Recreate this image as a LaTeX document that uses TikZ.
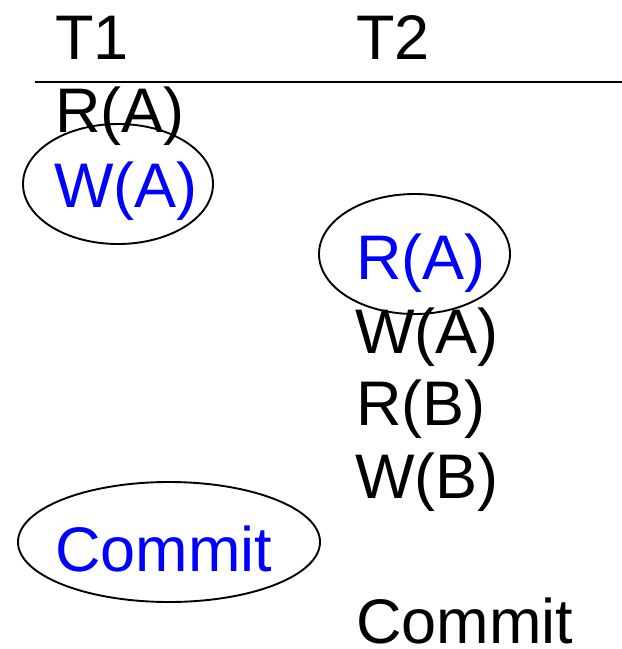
\documentclass[tikz,border=0pt]{standalone}
\usepackage{fontspec}
\setmainfont{Liberation Sans}
\usepackage{tikz}
\usetikzlibrary{shapes.geometric}
\definecolor{opblue}{RGB}{0,0,255}
\tikzstyle{op} = [anchor=base west, inner sep=0pt, font=\fontsize{63}{75}\selectfont]
\tikzstyle{hilite} = [op, text=opblue]
\tikzstyle{ring} = [draw=black, line width=1.9pt]
\tikzstyle{rule} = [draw=black, line width=1.9pt]

\begin{document}
\begin{tikzpicture}[x=1pt, y=-1pt]
        \useasboundingbox (0,0) rectangle (622,649);

            % column headers
            \node (t1) [op] at (55,59) {T1};
            \node (t2) [op] at (356,59) {T2};

            \coordinate (ruleL) at (35,82);
            \coordinate (ruleR) at (622,82);
            \draw [rule] (ruleL) -- (ruleR);

            % T1 operations
            \node (ra1) [op] at (55,132) {R(A)};
            \node (wa1) [hilite] at (54,207) {W(A)};
            \node (commit1) [hilite] at (55,571) {Commit};

            % T2 operations
            \node (ra2) [hilite] at (356,279) {R(A)};
            \node (wa2) [op] at (355,353) {W(A)};
            \node (rb2) [op] at (356,425) {R(B)};
            \node (wb2) [op] at (355,498) {W(B)};
            \node (commit2) [op] at (356,643) {Commit};

            % circled conflicting operations
            \draw [ring] (118,184) ellipse [x radius=95, y radius=60];
            \draw [ring] (414.5,254) ellipse [x radius=95.5, y radius=60];
            \draw [ring] (169,542) ellipse [x radius=151, y radius=60];

        \end{tikzpicture}
\end{document}
